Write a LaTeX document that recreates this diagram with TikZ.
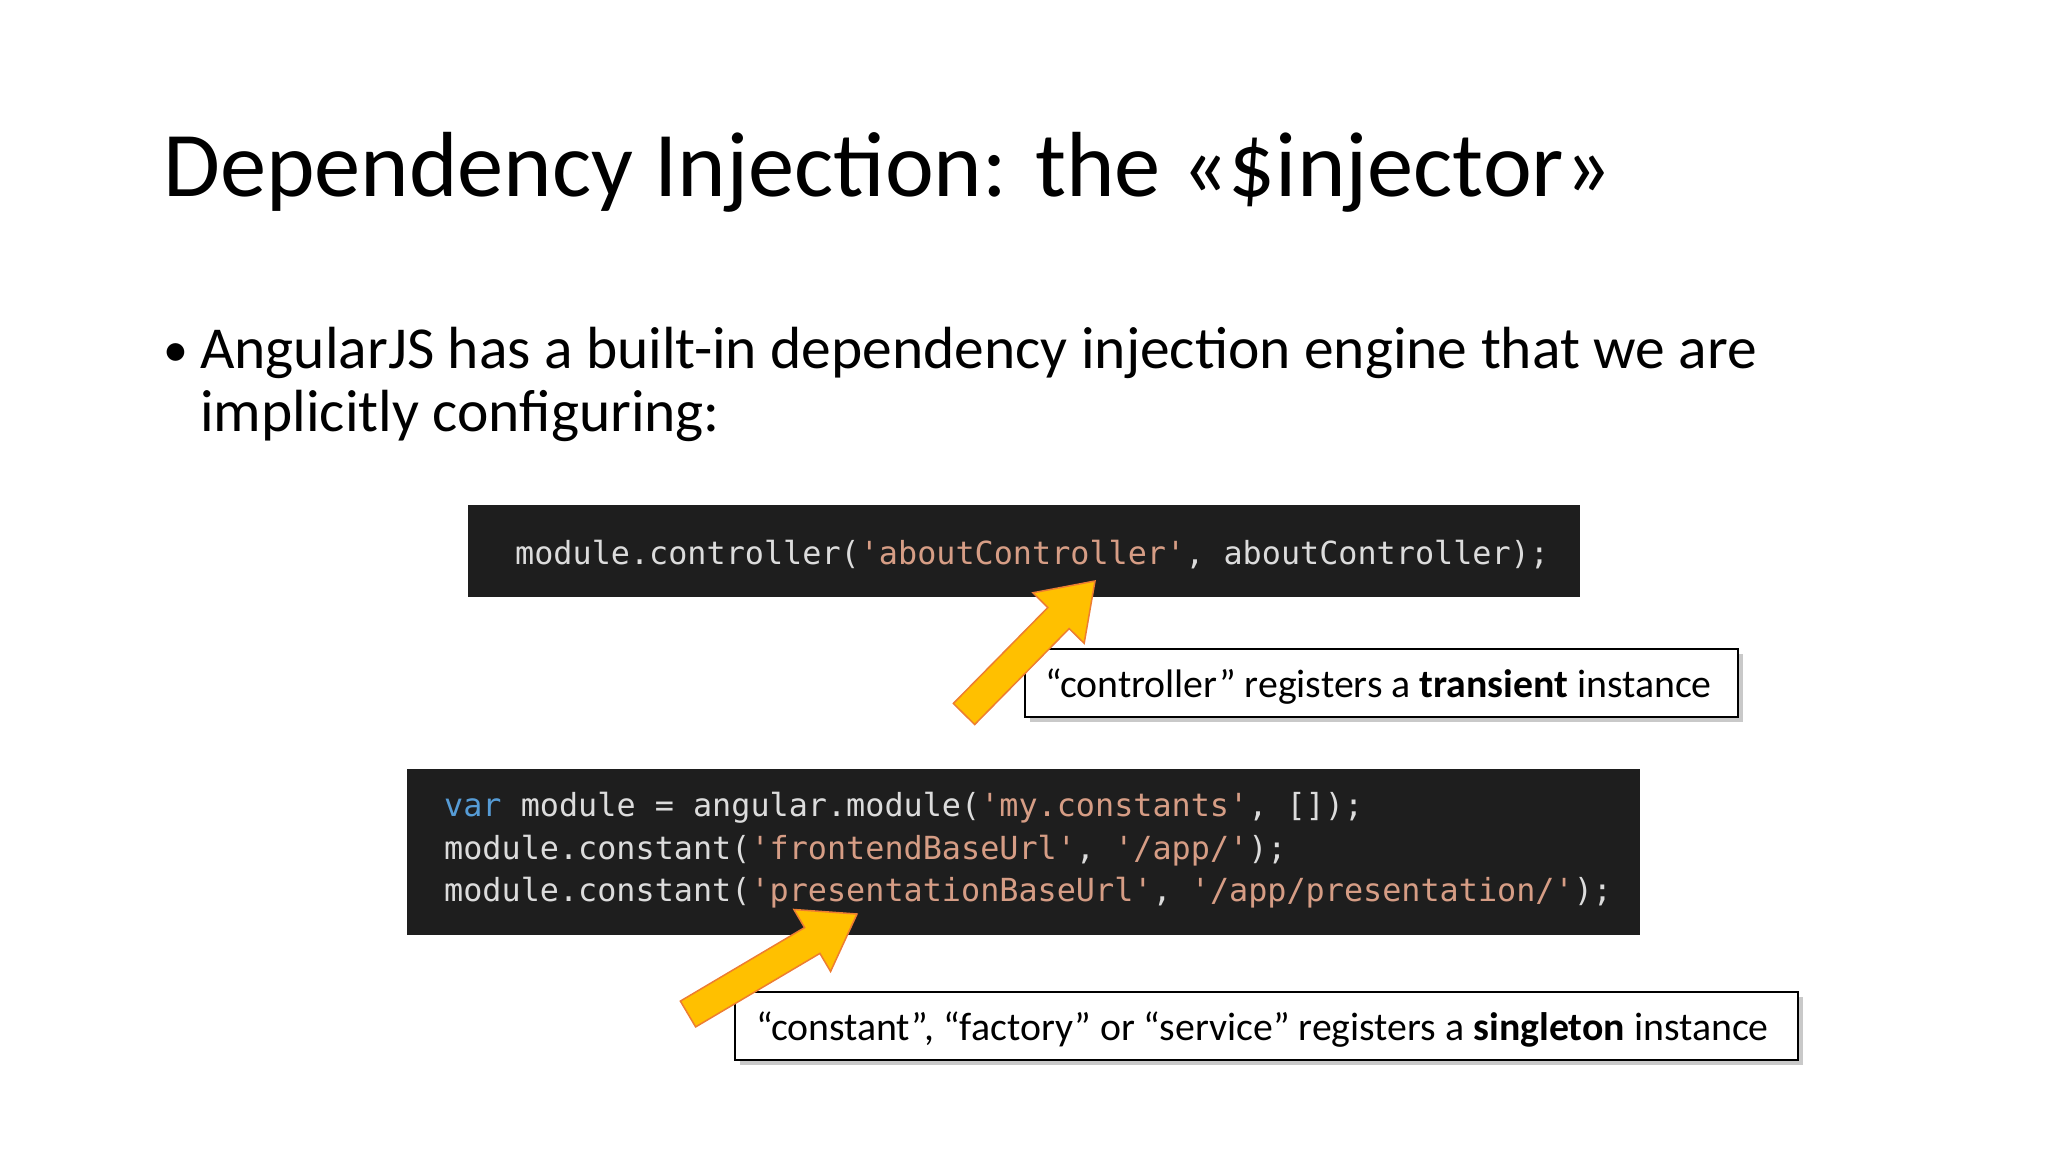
\documentclass[tikz,border=0pt]{standalone}
\usepackage{fontspec}
\setmainfont{Carlito}
\newfontfamily\codefont{DejaVu Sans Mono}
\usetikzlibrary{calc,shadows}
\definecolor{codebg}{HTML}{1E1E1E}
\definecolor{codefg}{HTML}{DCDCDC}
\definecolor{codestr}{HTML}{D69D85}
\definecolor{codekw}{HTML}{569CD6}
\definecolor{ayel}{HTML}{FFC000}
\definecolor{aor}{HTML}{ED7D31}
\newcommand\cs[1]{\textcolor{codestr}{#1}}
\newcommand\yarrow[3]{%
\coordinate (#1h) at ($(#3)!52pt!(#2)$);
\foreach \off/\sty in {{(5pt,-5pt)}/shadowsty,{(0,0)}/arrowsty}{
\draw[\sty,shift={\off}] ($(#2)!15pt!90:(#3)$) -- ($(#1h)!15pt!90:(#3)$) -- ($(#1h)!36pt!90:(#3)$) -- (#3) -- ($(#1h)!36pt!-90:(#3)$) -- ($(#1h)!15pt!-90:(#3)$) -- ($(#2)!15pt!-90:(#3)$) -- cycle;}}
\tikzset{
 codebox/.style={fill=codebg,inner sep=0pt},
 codetxt/.style={anchor=base west,inner sep=0pt,text=codefg,font=\codefont\fontsize{31.8}{36}\selectfont},
 callout/.style={draw=black,line width=1.5pt,fill=white,inner sep=0pt,drop shadow={shadow xshift=5pt,shadow yshift=-5pt,fill=black!35,opacity=0.6}},
 calltxt/.style={anchor=base west,inner sep=0pt,font=\fontsize{39.8}{44}\selectfont},
 arrowsty/.style={fill=ayel,draw=aor,line width=1.5pt,line join=miter},
 shadowsty/.style={fill=black!25,draw=none,opacity=0.6}
}
\begin{document}
\begin{tikzpicture}[x=1pt,y=-1pt]
\useasboundingbox[fill=white] (0,0) rectangle (2048,1152);
\node[anchor=base west,inner sep=0pt,font=\fontsize{92.5}{100}\selectfont] (title) at (163,196) {Dependency Injection: the «\$injector»};
\node[anchor=base west,inner sep=0pt,font=\fontsize{50}{64}\selectfont] (bul) at (163,366) {•};
\node[anchor=base west,inner sep=0pt,font=\fontsize{59.5}{64}\selectfont] (b1) at (200,368) {AngularJS has a built-in dependency injection engine that we are};
\node[anchor=base west,inner sep=0pt,font=\fontsize{59.5}{64}\selectfont] (b2) at (200,431) {implicitly configuring:};
% code box 1
\path[codebox] (468,505) rectangle (1580,597);
\node[codetxt] (c1) at (515,564) {module.controller(\cs{'aboutController'}, aboutController);};
% code box 2
\path[codebox] (407,769) rectangle (1640,935);
\node[codetxt] (c2) at (444,816) {\textcolor{codekw}{var} module = angular.module(\cs{'my.constants'}, []);};
\node[codetxt] (c3) at (444,859) {module.constant(\cs{'frontendBaseUrl'}, \cs{'/app/'});};
\node[codetxt] (c4) at (444,901) {module.constant(\cs{'presentationBaseUrl'}, \cs{'/app/presentation/'});};
% callouts
\node[callout,minimum width=713pt,minimum height=68pt,anchor=north west] (k1) at (1024,648) {};
\node[calltxt] (k1t) at (1045,697) {“controller” registers a \textbf{transient} instance};
\node[callout,minimum width=1063pt,minimum height=68pt,anchor=north west] (k2) at (734,991) {};
\node[calltxt] (k2t) at (756,1040) {“constant”, “factory” or “service” registers a \textbf{singleton} instance};
% arrows
\coordinate (a1t) at (964,714);
\coordinate (a1p) at (1095,581);
\coordinate (a2t) at (688,1014);
\coordinate (a2p) at (857,914);
\yarrow{a1}{a1t}{a1p}
\yarrow{a2}{a2t}{a2p}
\end{tikzpicture}
\end{document}
